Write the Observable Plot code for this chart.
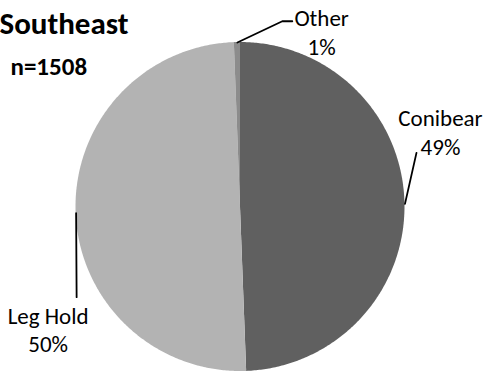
<!DOCTYPE html>
<html><head><meta charset="utf-8">
<script src="https://cdn.jsdelivr.net/npm/d3@7"></script>
<script src="https://cdn.jsdelivr.net/npm/@observablehq/plot@0.6"></script>
<style>body{margin:0;background:#fff}</style>
</head><body><div id="chart"></div>
<script>
// ---- data ----
const categories = ["Conibear", "Leg Hold", "Other"];
const values = [745, 754, 9];
const pctLabels = ["49%", "50%", "1%"];
const title = "Southeast";
const subtitle = "n=1508";
const colors = ["#606060", "#b3b3b3", "#8c8c8c"];

// ---- layout ----
const W = 487, H = 377, R = 164.5, CX = 240, CY = 206.5;
const FONT = "Carlito, Lato, sans-serif";
const LABEL_FS = 23, LINE_H = 28.7, TITLE_FS = 31, SUB_FS = 25;
// pixel offsets from each slice's mid-angle point on the rim
const layout = {
  "Conibear": {leader: [[11.5, -51]], text: [35.5, -72.8]},
  "Leg Hold": {leader: [[0.5, 84]], text: [-28, 115.5]},
  "Other": {leader: [[44.9, -21.3], [54.9, -21.3]], text: [84.2, -11.4]}
};

const rows = categories.map((name, i) => ({name, value: values[i], pct: pctLabels[i]}));
const arcs = d3.pie().sort(null).value(d => d.value)(rows);

const wedgePts = arcs.flatMap(a => {
  const n = Math.max(2, Math.ceil((a.endAngle - a.startAngle) / 0.01));
  return d3.range(n + 1).map(k => {
    const t = a.startAngle + (a.endAngle - a.startAngle) * k / n;
    return {name: a.data.name, x: Math.sin(t), y: Math.cos(t)};
  });
});

const leaderPts = [], labelPts = [];
for (const a of arcs) {
  const m = (a.startAngle + a.endAngle) / 2;
  const ax = Math.sin(m), ay = Math.cos(m);
  const L = layout[a.data.name];
  leaderPts.push({name: a.data.name, x: ax, y: ay});
  for (const [dx, dy] of L.leader) leaderPts.push({name: a.data.name, x: ax + dx / R, y: ay - dy / R});
  labelPts.push({name: a.data.name, pct: a.data.pct, x: ax + L.text[0] / R, y: ay - L.text[1] / R});
}

const mL = CX - R, mR = W - (CX + R), mT = CY - R, mB = H - (CY + R);

const chart = Plot.plot({
  width: W, height: H,
  marginLeft: mL, marginRight: mR, marginTop: mT, marginBottom: mB,
  x: {domain: [-1, 1], axis: null},
  y: {domain: [-1, 1], axis: null},
  color: {domain: categories, range: colors},
  style: {fontFamily: FONT, background: "#fff", overflow: "visible"},
  marks: [
    Plot.area(wedgePts, {x1: "x", y1: "y", x2: () => 0, y2: () => 0, z: "name", fill: "name", curve: "linear"}),
    Plot.line(leaderPts, {x: "x", y: "y", z: "name", stroke: "#000", strokeWidth: 1.8, curve: "linear"}),
    Plot.text(labelPts, {x: "x", y: "y", text: d => d.name + "\n" + d.pct, fontSize: LABEL_FS, lineHeight: LINE_H / LABEL_FS, lineAnchor: "middle", fill: "#000"}),
    Plot.text([title], {frameAnchor: "top-left", text: d => d, textAnchor: "start", lineAnchor: "middle", dx: -mL - 1, dy: 33 - 0.32 * TITLE_FS - mT, fontSize: TITLE_FS, fontWeight: "bold", fill: "#000"}),
    Plot.text([subtitle], {frameAnchor: "top-left", text: d => d, textAnchor: "start", lineAnchor: "middle", dx: 10 - mL, dy: 74 - 0.32 * SUB_FS - mT, fontSize: SUB_FS, fontWeight: "bold", fill: "#000"})
  ]
});
document.getElementById("chart").appendChild(chart);
</script>
</body></html>
